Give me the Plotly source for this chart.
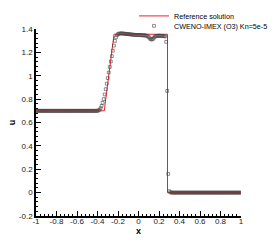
import numpy as np
import plotly.graph_objects as go

# Reference solution (piecewise linear)
x_ref = [-1.0, -0.334, -0.239, 0.283, 0.283, 1.0]
u_ref = [0.70, 0.70, 1.355, 1.355, 0.0, 0.0]

# Numerical solution on a uniform grid of 201 points
x_num = np.round(np.linspace(-1.0, 1.0, 201), 3)
u_left = [0.700] * 60  # x = -1.00 .. -0.41
u_rare = [0.700, 0.703, 0.710, 0.722, 0.742, 0.768, 0.800, 0.840, 0.885, 0.932,
          0.980, 1.028, 1.075, 1.122, 1.168, 1.214, 1.258, 1.298, 1.328, 1.346,
          1.356, 1.360, 1.362]
u_plat = [1.362, 1.362, 1.361, 1.360, 1.359, 1.358, 1.357, 1.356, 1.355, 1.354,
          1.353, 1.352, 1.351, 1.350, 1.350, 1.349, 1.349, 1.348, 1.348, 1.347,
          1.347, 1.346, 1.346, 1.345, 1.344, 1.342, 1.338, 1.330, 1.320, 1.312,
          1.310, 1.315, 1.325, 1.334, 1.339, 1.341, 1.342, 1.342, 1.342, 1.341,
          1.341, 1.340, 1.339, 1.336]
u_shock = [1.290, 0.870, 0.160, 0.012, 0.003, 0.001]
u_right = [0.000] * 68  # x = 0.33 .. 1.00
u_num = u_left + u_rare + u_plat + u_shock + u_right

x_ticks = [-1, -0.8, -0.6, -0.4, -0.2, 0, 0.2, 0.4, 0.6, 0.8, 1]
x_labels = ["-1", "-0.8", "-0.6", "-0.4", "-0.2", "0", "0.2", "0.4", "0.6", "0.8", "1"]
y_ticks = [-0.2, 0, 0.2, 0.4, 0.6, 0.8, 1, 1.2, 1.4]
y_labels = ["-0.2", "0", "0.2", "0.4", "0.6", "0.8", "1", "1.2", "1.4"]

FONT = "Liberation Sans, Arial, sans-serif"

fig = go.Figure()
fig.add_trace(go.Scatter(
    x=x_ref, y=u_ref, mode="lines", name="Reference solution",
    line=dict(color="#e8232b", width=1), legend="legend"))
fig.add_trace(go.Scatter(
    x=x_num, y=u_num, mode="markers", name="CWENO-IMEX (O3) Kn=5e-5",
    marker=dict(symbol="square-open", size=2.8, color="#4a4242",
                line=dict(width=0.6, color="#4a4242")),
    legend="legend2"))

axis_common = dict(
    showline=True, linecolor="black", linewidth=1.5, mirror=False,
    ticks="inside", ticklen=5, tickwidth=1, tickcolor="black",
    showgrid=False, zeroline=False, tickangle=0,
    tickfont=dict(family=FONT, size=8, color="#222"),
)

fig.update_layout(
    width=274, height=244,
    margin=dict(l=36, r=33, t=29, b=28, autoexpand=False),
    paper_bgcolor="white", plot_bgcolor="white",
    showlegend=True,
    xaxis=dict(range=[-1, 1], tickvals=x_ticks, ticktext=x_labels,
               minor=dict(dtick=0.04, tick0=-1, ticks="inside", ticklen=2.5,
                          tickwidth=0.8, tickcolor="black"),
               title=dict(text="<b>x</b>", font=dict(family=FONT, size=9, color="black"),
                          standoff=0),
               ticklabelstandoff=-3,
               **axis_common),
    yaxis=dict(range=[-0.2, 1.4], tickvals=y_ticks, ticktext=y_labels,
               minor=dict(dtick=0.04, tick0=-0.2, ticks="inside", ticklen=2.5,
                          tickwidth=0.8, tickcolor="black"),
               title=dict(text="<b>u</b>", font=dict(family=FONT, size=9, color="black"),
                          standoff=2),
               **axis_common),
    legend=dict(x=0.478, y=1.07, xanchor="left", yanchor="middle",
                bgcolor="rgba(0,0,0,0)", borderwidth=0,
                font=dict(family=FONT, size=7.2, color="#000"),
                itemwidth=30),
    legend2=dict(x=0.478, y=1.017, xanchor="left", yanchor="middle",
                 bgcolor="rgba(0,0,0,0)", borderwidth=0,
                 font=dict(family=FONT, size=7.2, color="#000"),
                 itemwidth=30),
)

fig.write_html("out.html", config={"displayModeBar": False},
               post_script="document.body.style.margin='0';document.body.style.padding='0';")
